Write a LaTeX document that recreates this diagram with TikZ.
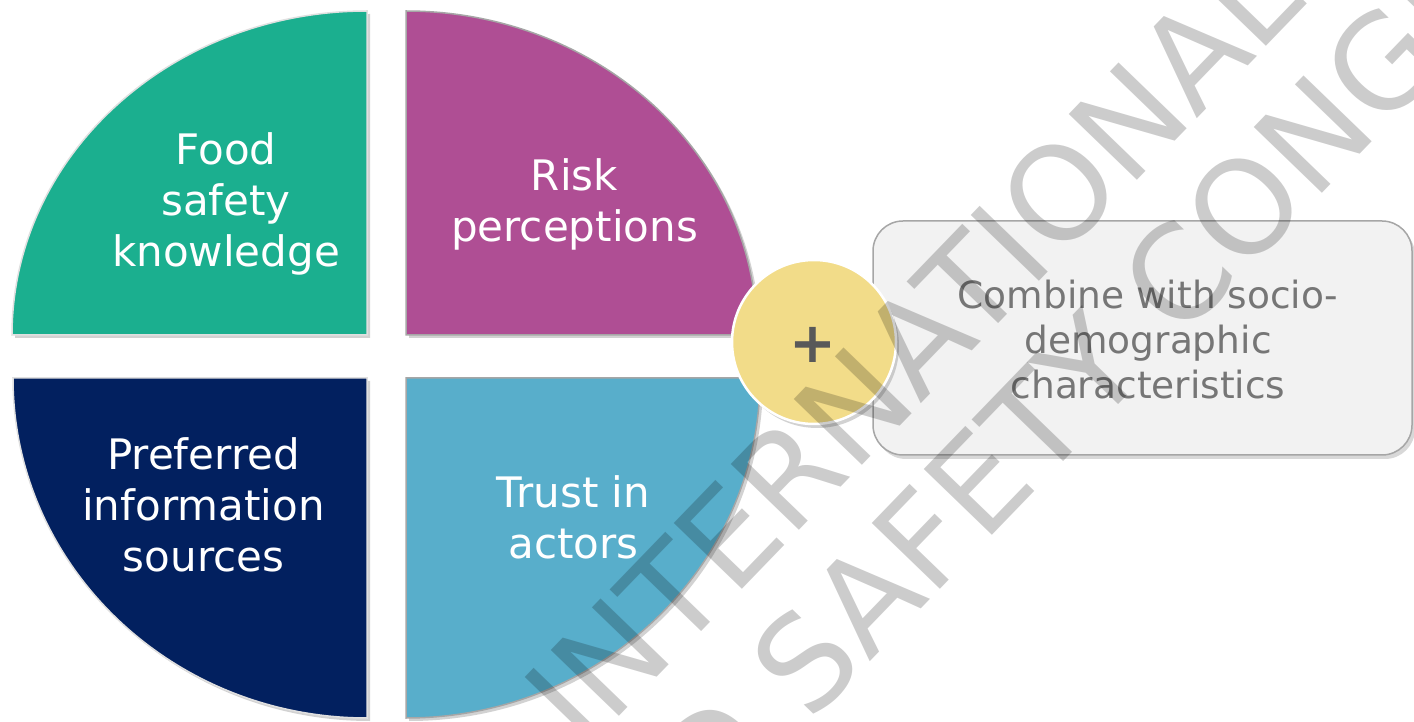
\documentclass[tikz,border=0pt]{standalone}
\usepackage{fontspec}
\setmainfont{DejaVu Sans}
\usetikzlibrary{shadows}

\definecolor{foodgreen}{HTML}{1BAF8F}
\definecolor{riskpink}{HTML}{AF4E94}
\definecolor{sourcenavy}{HTML}{02205F}
\definecolor{trustblue}{HTML}{58AECB}
\definecolor{plusyellow}{HTML}{F2DC89}
\definecolor{boxgrey}{HTML}{F2F2F2}
\definecolor{edgegrey}{HTML}{A6A6A6}
\definecolor{textgrey}{HTML}{767676}

\begin{document}
\begin{tikzpicture}[x=1pt, y=1pt,
    quarter/.style={fill=#1, line width=1.5pt,
        drop shadow={opacity=0.35, shadow xshift=3pt, shadow yshift=-3pt}},
    quadtext/.style={text=white, align=center, font=\fontsize{42}{51}\selectfont},
    watermark/.style={text=black, text opacity=0.2, rotate=46, anchor=base,
        font=\fontsize{130}{130}\selectfont}
]
    \useasboundingbox (0, 0) rectangle (1414, 721);
    \fill[white] (0, 0) rectangle (1414, 721);
    \clip (0, 0) rectangle (1414, 721);

    % four quarters of the pie
    \draw[quarter=foodgreen, draw=white!88!black] (367, 386) -- (12, 386)
        arc[start angle=180, end angle=90, x radius=355pt, y radius=324pt] -- cycle;
    \draw[quarter=riskpink, draw=edgegrey] (406, 386) -- (406, 710)
        arc[start angle=90, end angle=0, x radius=351pt, y radius=324pt] -- cycle;
    \draw[quarter=sourcenavy, draw=white!88!black] (367, 343) -- (13, 343)
        arc[start angle=180, end angle=270, x radius=354pt, y radius=340pt] -- cycle;
    \draw[quarter=trustblue, draw=edgegrey] (406, 343) -- (406, 3)
        arc[start angle=270, end angle=360, x radius=354pt, y radius=340pt] -- cycle;

    \node[quadtext] (food) at (226, 517) {Food\\safety\\knowledge};
    \node[quadtext] (risk) at (574.5, 517) {Risk\\perceptions};
    \node[quadtext] (sources) at (203.5, 216.5) {Preferred\\information\\sources};
    \node[quadtext] (trust) at (573.5, 203.5) {Trust in\\actors};

    % extra variables
    \node[draw=edgegrey, line width=1.5pt, fill=boxgrey, rounded corners=30pt,
        minimum width=539pt, minimum height=234pt,
        drop shadow={opacity=0.3, shadow xshift=3pt, shadow yshift=-4pt}]
        (combinebox) at (1142.5, 383) {};
    \node[text=textgrey, align=center, font=\fontsize{37.5}{45}\selectfont]
        (combine) at (1148, 381) {Combine with socio-\\demographic\\characteristics};

    % plus sign
    \node[circle, draw=white, line width=2.5pt, fill=plusyellow, minimum size=164pt,
        drop shadow={opacity=0.35, shadow xshift=3pt, shadow yshift=-4pt}]
        (plus) at (814, 379) {};
    \node[text=black!65, font=\fontsize{56}{56}\selectfont\bfseries]
        (plussign) at (813, 376) {+};

    % watermark on top
    \node[watermark] (wmtop) at (946, 343) {INTERNATIONAL};
    \node[watermark] (wmbottom) at (1102, 299) {FOOD SAFETY CONGRESS};
\end{tikzpicture}
\end{document}
